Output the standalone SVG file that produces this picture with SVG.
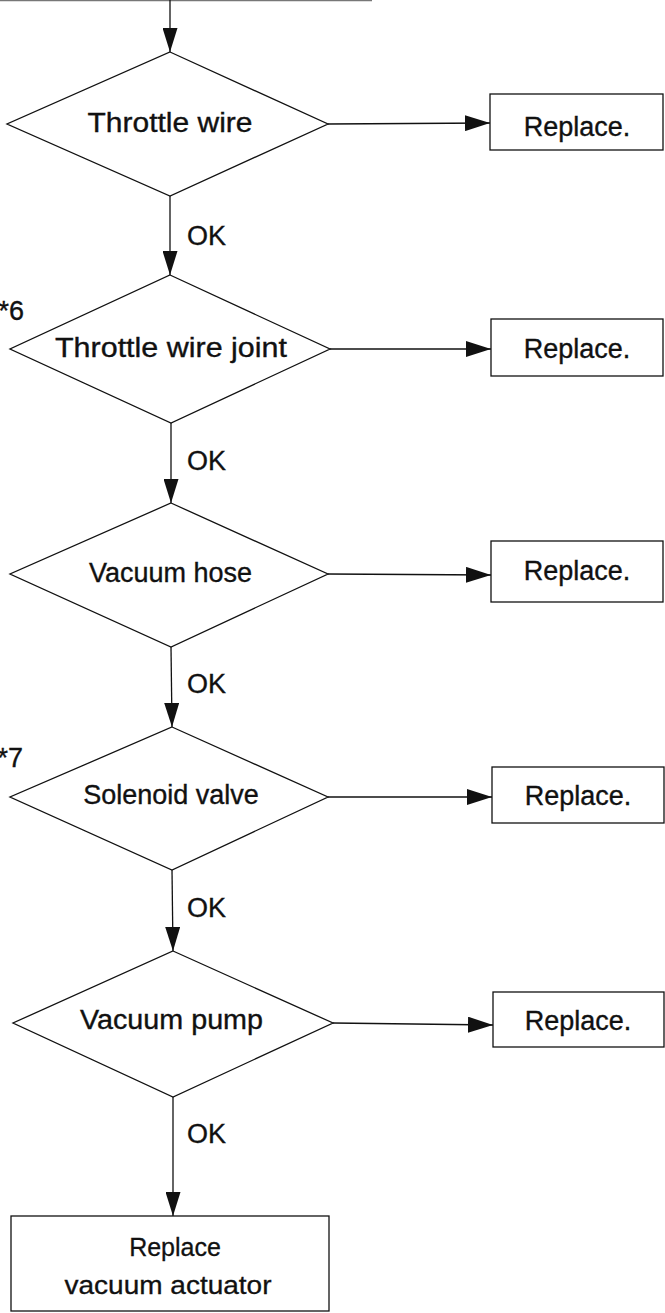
<svg xmlns="http://www.w3.org/2000/svg" width="665" height="1313" viewBox="0 0 665 1313">
<style>
.shape{fill:#fff;stroke:#111;stroke-width:1.3}
.line{fill:none;stroke:#111;stroke-width:1.3}
.t{font-family:"Liberation Sans",Arial,sans-serif;font-size:27px;fill:#111;stroke:#111;stroke-width:0.35;text-anchor:middle}
.lbl{font-family:"Liberation Sans",Arial,sans-serif;font-size:27px;fill:#111;stroke:#111;stroke-width:0.35}
.tb{font-family:"Liberation Sans",Arial,sans-serif;font-size:25px;fill:#111;stroke:#111;stroke-width:0.3;text-anchor:middle}
</style>
<defs>
<marker id="ah" markerUnits="userSpaceOnUse" markerWidth="25" markerHeight="16" refX="25" refY="8" orient="auto">
<path d="M0,0 L25,8 L0,16 z" fill="#111"/>
</marker>
<marker id="av" markerUnits="userSpaceOnUse" markerWidth="24" markerHeight="15" refX="24" refY="7.5" orient="auto">
<path d="M0,0 L24,7.5 L0,15 z" fill="#111"/>
</marker>
</defs>
<g id="connectors">
<line x1="0" y1="0.6" x2="372" y2="0.6" stroke="#777" stroke-width="1.3"/>
<line class="line" x1="170" y1="0" x2="170" y2="52" marker-end="url(#av)"/>
<line class="line" x1="170" y1="196" x2="170" y2="275" marker-end="url(#av)"/>
<line class="line" x1="171" y1="423" x2="171" y2="503" marker-end="url(#av)"/>
<line class="line" x1="171" y1="647" x2="172" y2="727" marker-end="url(#av)"/>
<line class="line" x1="172" y1="870" x2="173" y2="951" marker-end="url(#av)"/>
<line class="line" x1="173" y1="1097" x2="173" y2="1216" marker-end="url(#av)"/>
<line class="line" x1="328" y1="124" x2="490" y2="123" marker-end="url(#ah)"/>
<line class="line" x1="330" y1="349" x2="491" y2="349" marker-end="url(#ah)"/>
<line class="line" x1="328" y1="574" x2="491" y2="575" marker-end="url(#ah)"/>
<line class="line" x1="328" y1="797" x2="492" y2="797" marker-end="url(#ah)"/>
<line class="line" x1="333" y1="1023" x2="493" y2="1025" marker-end="url(#ah)"/>
<text class="lbl" x="187" y="245">OK</text>
<text class="lbl" x="187" y="470">OK</text>
<text class="lbl" x="187" y="693">OK</text>
<text class="lbl" x="187" y="917">OK</text>
<text class="lbl" x="187" y="1143">OK</text>
</g>
<g id="d1">
<polygon class="shape" points="170,52 328,124 170,196 7,124"/>
<text class="t" x="170" y="132" textLength="165" lengthAdjust="spacingAndGlyphs">Throttle wire</text>
</g>
<g id="d2">
<polygon class="shape" points="170,275 330,349 171,423 10,349"/>
<text class="t" x="171" y="357" textLength="232" lengthAdjust="spacingAndGlyphs">Throttle wire joint</text>
<text class="lbl" x="24" y="320" text-anchor="end">*6</text>
</g>
<g id="d3">
<polygon class="shape" points="171,503 328,574 171,647 10,574"/>
<text class="t" x="170.5" y="582">Vacuum hose</text>
</g>
<g id="d4">
<polygon class="shape" points="172,727 328,797 172,870 10,797"/>
<text class="t" x="171" y="804">Solenoid valve</text>
<text class="lbl" x="23" y="767" text-anchor="end">*7</text>
</g>
<g id="d5">
<polygon class="shape" points="173,951 333,1023 173,1097 13,1023"/>
<text class="t" x="171.5" y="1029" textLength="183" lengthAdjust="spacingAndGlyphs">Vacuum pump</text>
</g>
<g id="r1">
<rect class="shape" x="490" y="94" width="173" height="56"/>
<text class="t" x="577" y="136">Replace.</text>
</g>
<g id="r2">
<rect class="shape" x="491" y="319" width="172" height="57"/>
<text class="t" x="577" y="358">Replace.</text>
</g>
<g id="r3">
<rect class="shape" x="491" y="541" width="172" height="61"/>
<text class="t" x="577" y="580">Replace.</text>
</g>
<g id="r4">
<rect class="shape" x="492" y="767" width="172" height="56"/>
<text class="t" x="578" y="805">Replace.</text>
</g>
<g id="r5">
<rect class="shape" x="493" y="992" width="171" height="55"/>
<text class="t" x="578" y="1030">Replace.</text>
</g>
<g id="final">
<rect class="shape" x="11" y="1216" width="318" height="95"/>
<text class="tb" x="175" y="1256">Replace</text>
<text class="tb" x="168" y="1294" textLength="207" lengthAdjust="spacingAndGlyphs">vacuum actuator</text>
</g>
</svg>
